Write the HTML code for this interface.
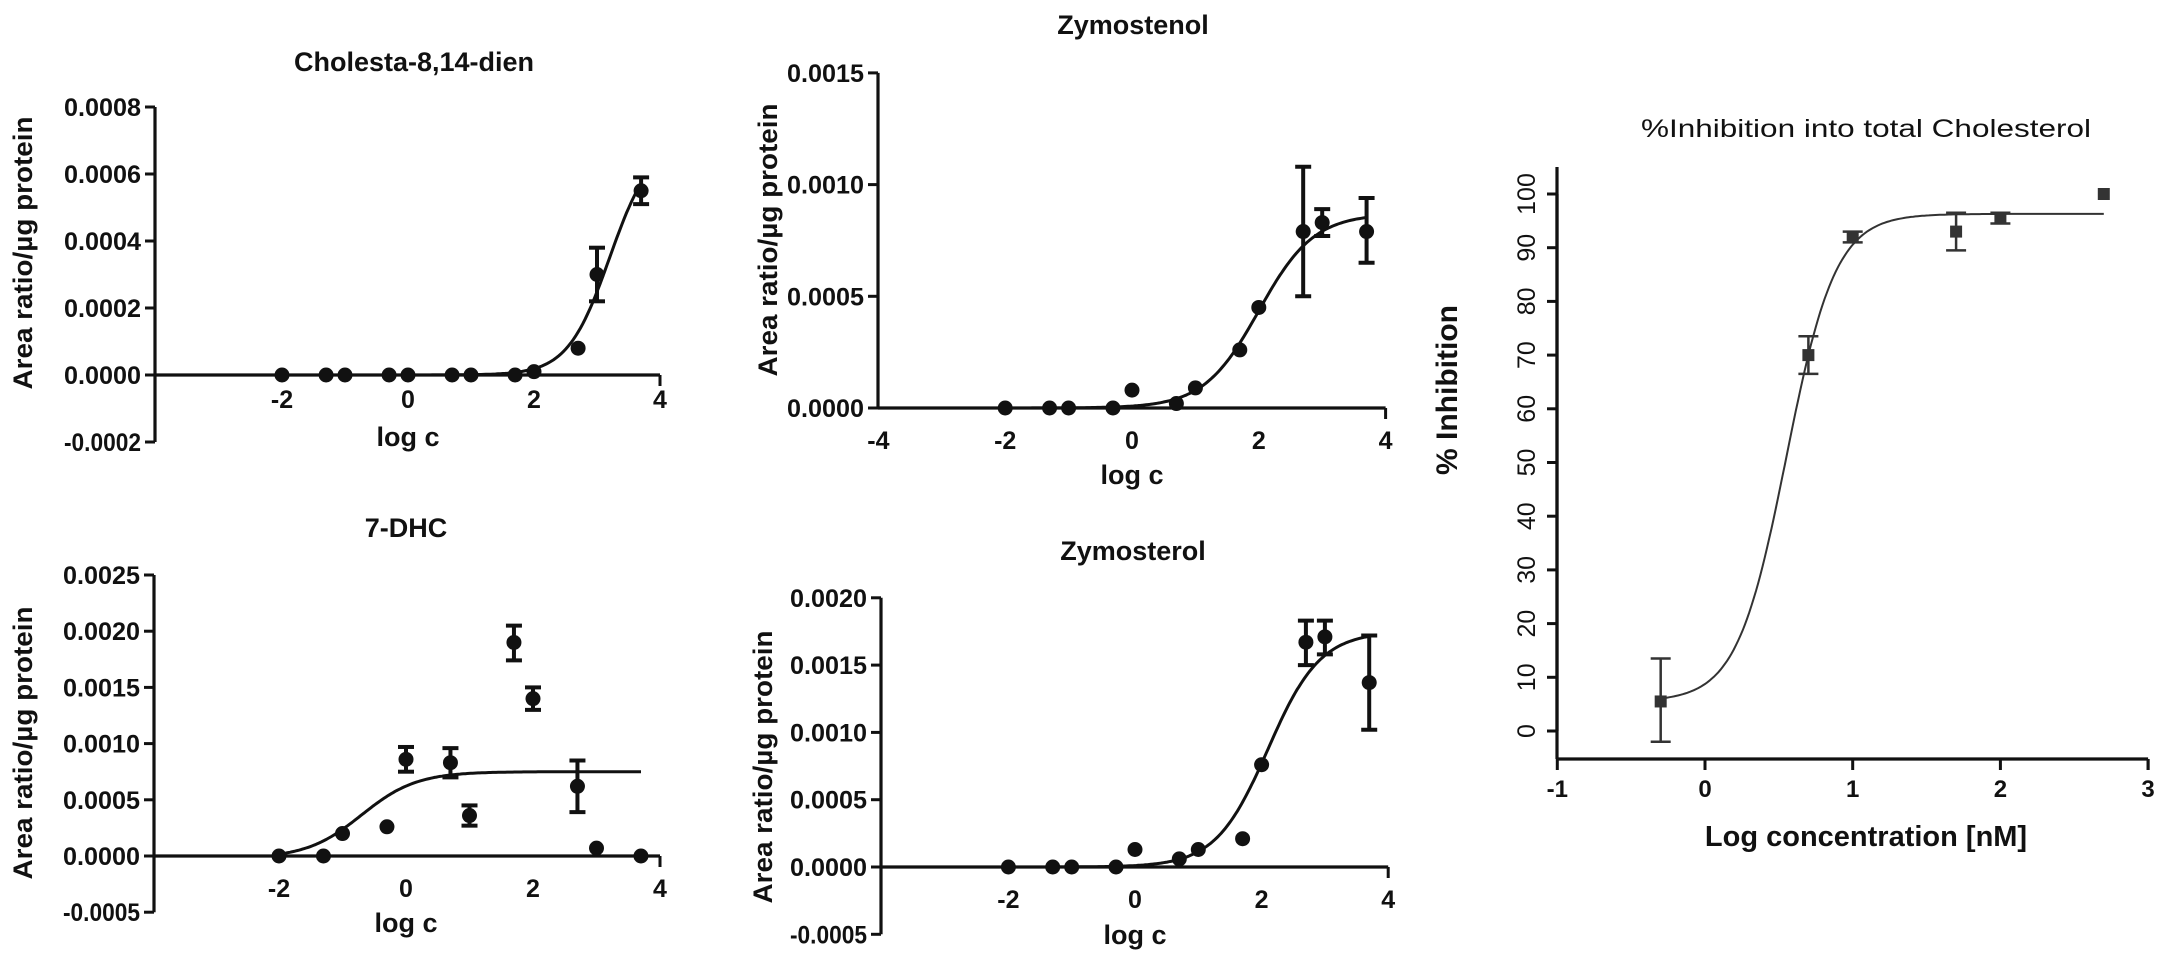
<!DOCTYPE html>
<html><head><meta charset="utf-8"><style>
html,body{margin:0;padding:0;background:#fff}
svg{display:block}
text{font-family:"Liberation Sans",Arial,sans-serif;fill:#111}
.b{font-weight:bold}
</style></head><body>
<svg id="s" width="2162" height="958" viewBox="0 0 2162 958" xmlns="http://www.w3.org/2000/svg">
<text x="414" y="71" class="b" font-size="27" text-anchor="middle">Cholesta-8,14-dien</text>
<text x="1133" y="34" class="b" font-size="27" text-anchor="middle">Zymostenol</text>
<text x="406" y="537" class="b" font-size="27" text-anchor="middle">7-DHC</text>
<text x="1133" y="560" class="b" font-size="27" text-anchor="middle">Zymosterol</text>
<text x="1866" y="137" font-size="25" text-anchor="middle" textLength="450" lengthAdjust="spacingAndGlyphs">%Inhibition into total Cholesterol</text>

<text class="b" font-size="27" text-anchor="middle" textLength="273" lengthAdjust="spacingAndGlyphs" transform="translate(32,253) rotate(-90)">Area ratio/µg protein</text>
<text class="b" font-size="27" text-anchor="middle" textLength="273" lengthAdjust="spacingAndGlyphs" transform="translate(777,240) rotate(-90)">Area ratio/µg protein</text>
<text class="b" font-size="27" text-anchor="middle" textLength="273" lengthAdjust="spacingAndGlyphs" transform="translate(32,743) rotate(-90)">Area ratio/µg protein</text>
<text class="b" font-size="27" text-anchor="middle" textLength="273" lengthAdjust="spacingAndGlyphs" transform="translate(772,767) rotate(-90)">Area ratio/µg protein</text>
<text class="b" font-size="30" text-anchor="middle" transform="translate(1457,390) rotate(-90)">% Inhibition</text>

<text x="408" y="446" class="b" font-size="27" text-anchor="middle">log c</text>
<text x="1132" y="484" class="b" font-size="27" text-anchor="middle">log c</text>
<text x="406" y="932" class="b" font-size="27" text-anchor="middle">log c</text>
<text x="1135" y="944" class="b" font-size="27" text-anchor="middle">log c</text>
<text x="1866" y="846" class="b" font-size="29" text-anchor="middle">Log concentration [nM]</text>
<g id="g"></g>
</svg>
<script>
var NS="http://www.w3.org/2000/svg",G=document.getElementById("g");
function el(t,a,txt){var e=document.createElementNS(NS,t);for(var k in a)e.setAttribute(k,a[k]);if(txt!=null)e.textContent=txt;G.appendChild(e);return e;}
function panel(p){
 var X=function(v){return p.x0+p.ux*v},Y=function(v){return p.y0-(v/p.ys)*p.yu};
 var col=p.col||"#111";
 el("line",{x1:p.ax,y1:Y(p.ymax),x2:p.ax,y2:Y(p.ymin),stroke:"#111","stroke-width":3.2});
 for(var v=p.ymin;v<=p.ymax+1e-12;v+=p.ys){var y=Y(v);
  el("line",{x1:p.ax-10,y1:y,x2:p.ax,y2:y,stroke:"#111","stroke-width":3});
  if(p.rotY){el("text",{x:0,y:0,"font-size":25,"text-anchor":"middle",transform:"translate("+(p.ax-22)+","+y+") rotate(-90)"},String(Math.round(v)));}
  else el("text",{x:p.ax-14,y:y+9,"font-size":25,"class":"b","text-anchor":"end",textLength:77,lengthAdjust:"spacingAndGlyphs"},(Math.abs(v)<1e-12?0:v).toFixed(4));
 }
 el("line",{x1:p.ax,y1:p.xy,x2:X(p.xmax),y2:p.xy,stroke:"#111","stroke-width":3.2});
 el("line",{x1:X(p.xmax),y1:p.xy,x2:X(p.xmax),y2:p.xy+11,stroke:"#111","stroke-width":3});
 if(p.allx)p.xt.forEach(function(t){el("line",{x1:X(t),y1:p.xy,x2:X(t),y2:p.xy+11,stroke:"#111","stroke-width":3});});
 p.xt.forEach(function(t){el("text",{x:X(t),y:p.xly,"font-size":p.xfs||25,"class":"b","text-anchor":"middle"},String(t));});
 var d="";for(var i=0;i<=200;i++){var v=p.c0+(p.c1-p.c0)*i/200;var f=p.B+(p.T-p.B)/(1+Math.pow(10,(p.E-v)*p.h));d+=(i?"L":"M")+X(v).toFixed(1)+","+Y(f).toFixed(1);}
 el("path",{d:d,fill:"none",stroke:col,"stroke-width":p.cw||3});
 p.pts.forEach(function(q){var x=X(q[0]),y=Y(q[1]);
  if(q.length>2){var ew=p.sq?10:8;el("line",{x1:x,y1:Y(q[2]),x2:x,y2:Y(q[3]),stroke:col,"stroke-width":p.ebw||4});
   el("line",{x1:x-ew,y1:Y(q[2]),x2:x+ew,y2:Y(q[2]),stroke:col,"stroke-width":p.ebw||4});
   el("line",{x1:x-ew,y1:Y(q[3]),x2:x+ew,y2:Y(q[3]),stroke:col,"stroke-width":p.ebw||4});}
  if(p.sq)el("rect",{x:x-6,y:y-6,width:12,height:12,fill:"#333"});
  else el("circle",{cx:x,cy:y,r:7.5,fill:"#111"});
 });
}
panel({x0:408,ux:63,ax:155,y0:375,yu:67,ys:0.0002,ymin:-0.0002,ymax:0.0008,xy:375,xmax:4,xt:[-2,0,2,4],xly:408,
 c0:-4,c1:3.7,B:0,T:0.0007,E:3.2,h:1.3,
 pts:[[-2,0],[-1.3,0],[-1,0],[-0.3,0],[0,0],[0.7,0],[1,0],[1.7,0],[2,0.00001],[2.7,0.00008],[3,0.0003,0.00022,0.00038],[3.7,0.00055,0.00051,0.00059]]});
panel({x0:1132,ux:63.4,ax:878,y0:408,yu:111.7,ys:0.0005,ymin:0,ymax:0.0015,xy:408,xmax:4,xt:[-4,-2,0,2,4],xly:449,
 c0:-2,c1:3.7,B:0,T:0.00087,E:2.0,h:1,
 pts:[[-2,0],[-1.3,0],[-1,0],[-0.3,0],[0,0.00008],[0.7,0.00002],[1,0.00009],[1.7,0.00026],[2,0.00045],[2.7,0.00079,0.0005,0.00108],[3,0.00083,0.00077,0.00089],[3.7,0.00079,0.00065,0.00094]]});
panel({x0:406,ux:63.5,ax:154,y0:856,yu:56.2,ys:0.0005,ymin:-0.0005,ymax:0.0025,xy:856,xmax:4,xt:[-2,0,2,4],xly:897,
 c0:-2,c1:3.7,B:-0.00002,T:0.00075,E:-0.7,h:1,
 pts:[[-2,0],[-1.3,0],[-1,0.0002],[-0.3,0.00026],[0,0.00086,0.00075,0.00097],[0.7,0.00083,0.0007,0.00096],[1,0.00036,0.00027,0.00045],[1.7,0.0019,0.00174,0.00205],[2,0.0014,0.0013,0.0015],[2.7,0.00062,0.00039,0.00085],[3,0.00007],[3.7,0]]});
panel({x0:1135,ux:63.3,ax:881,y0:867,yu:67.3,ys:0.0005,ymin:-0.0005,ymax:0.002,xy:867,xmax:4,xt:[-2,0,2,4],xly:908,
 c0:-2,c1:3.7,B:0,T:0.00175,E:2.1,h:1.05,
 pts:[[-2,0],[-1.3,0],[-1,0],[-0.3,0],[0,0.00013],[0.7,0.00006],[1,0.00013],[1.7,0.00021],[2,0.00076],[2.7,0.00167,0.0015,0.00183],[3,0.00171,0.00158,0.00183],[3.7,0.00137,0.00102,0.00172]]});
panel({x0:1705,ux:147.7,ax:1557,y0:731,yu:53.7,ys:10,ymin:0,ymax:100,xy:759,xmax:3,xt:[-1,0,1,2,3],xly:797,xfs:24,allx:true,rotY:true,
 col:"#333",cw:2,ebw:2.5,sq:true,
 c0:-0.3,c1:2.7,B:5.5,T:96.3,E:0.55,h:2.6,
 pts:[[-0.3,5.5,-2,13.5],[0.7,70,66.5,73.5],[1,92,91,93],[1.7,93,89.5,96.5],[2,95.5,94.5,96.5],[2.7,100]]});
el("line",{x1:1557,y1:167,x2:1557,y2:759,stroke:"#111","stroke-width":3.2});
</script>
</body></html>
